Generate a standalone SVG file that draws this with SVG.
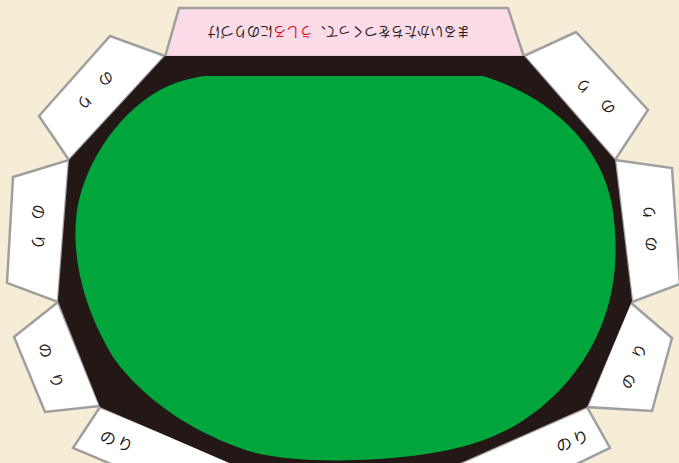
<svg xmlns="http://www.w3.org/2000/svg" width="679" height="463" viewBox="0 0 679 463">
<style>
.tab{fill:#ffffff;stroke:#9f9f9f;stroke-width:2.5;stroke-linejoin:miter}
.glue{font-family:"Noto Sans CJK JP","Noto Sans",sans-serif;font-size:15px;fill:#231815;text-anchor:middle;dominant-baseline:central}
.note{font-family:"Noto Sans CJK JP","Noto Sans",sans-serif;font-size:13.5px;fill:#231815;text-anchor:middle;dominant-baseline:central}
</style>
<rect width="679" height="463" fill="#f5edd6"/>
<g id="tabs">
<g id="tab-top"><polygon points="179,8 508,8 524,57 165,57" fill="#fadbe7" stroke="#9f9f9f" stroke-width="2.5"/></g>
<g id="tab-upper-left"><polygon class="tab" points="165,56 110,36 39,116 69,160"/></g>
<g id="tab-upper-right"><polygon class="tab" points="524,56 576,32 648,110 615,160"/></g>
<g id="tab-left"><polygon class="tab" points="69,160 13,177 7,283 58,302"/></g>
<g id="tab-right"><polygon class="tab" points="615,160 672,168 680,284 632,302"/></g>
<g id="tab-lower-left"><polygon class="tab" points="58,302 14,337 45,412 100,406"/></g>
<g id="tab-lower-right"><polygon class="tab" points="630,302 672,338 652,411 587,407"/></g>
<g id="tab-bottom-left"><polygon class="tab" points="100,407 73,448 130,472 260,472"/></g>
<g id="tab-bottom-right"><polygon class="tab" points="587,407 610,448 560,472 440,472"/></g>
</g>
<g id="board">
<polygon points="165,56 524,56 615,160 632,301 587,407 440,472 250,472 100,407 58,301 69,160" fill="#231815"/>
<path d="M205,76 H483 C545,95 600,140 612,205 C620,255 615,300 595,340 C570,390 525,428 475,443 C420,462 290,468 240,448 C190,430 145,400 115,360 C90,320 72,270 76,220 C80,170 115,115 160,90 C175,82 190,78 205,76 Z" fill="#00a63c"/>
</g>
<g id="labels">
<text class="note" transform="rotate(180 338.5 33)" x="338.5" y="33" textLength="263" lengthAdjust="spacingAndGlyphs">まるいかたちをつくって、<tspan fill="#e60012">うしろ</tspan>にのりづけ</text>
<text class="glue" transform="translate(96,91) rotate(133)" x="-16 16" y="0">のり</text>
<text class="glue" transform="translate(595,97) rotate(221)" x="-16 16" y="0">のり</text>
<text class="glue" transform="translate(39,227) rotate(90)" x="-15 15" y="0">のり</text>
<text class="glue" transform="translate(649,228) rotate(267)" x="-16 16" y="0">のり</text>
<text class="glue" transform="translate(52,365) rotate(70)" x="-16 16" y="0">のり</text>
<text class="glue" transform="translate(633,366) rotate(290)" x="-16 16" y="0">のり</text>
<text class="glue" transform="translate(117,440) rotate(21)" x="-9 9" y="0" style="font-size:16px">のり</text>
<text class="glue" transform="translate(572,440) rotate(-22)" x="-9 9" y="0" style="font-size:16px">のり</text>
</g>
</svg>
